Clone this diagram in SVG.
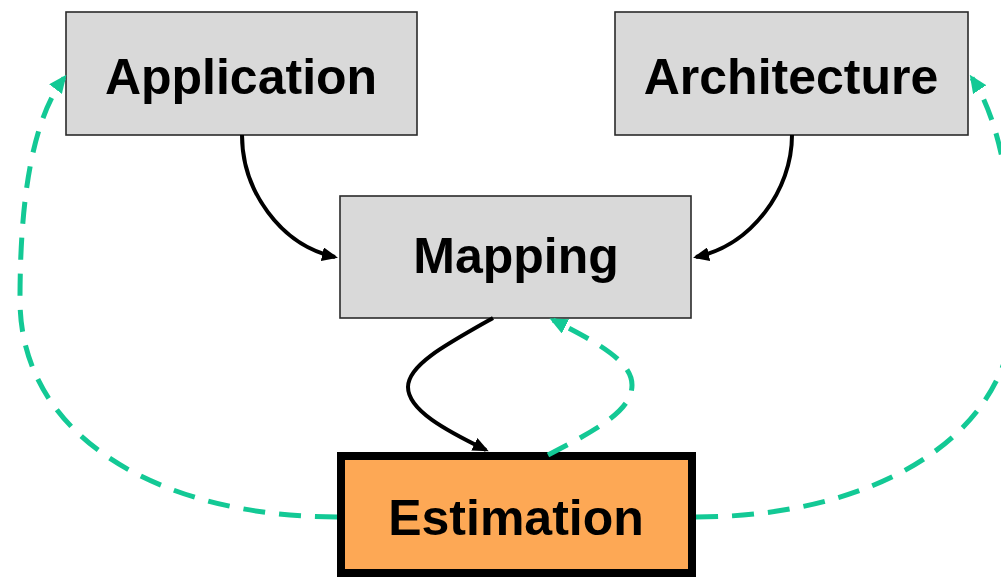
<svg xmlns="http://www.w3.org/2000/svg" width="1001" height="577" viewBox="0 0 1001 577">
<style>
.box{fill:#d9d9d9;stroke:#2a2a2a;stroke-width:1.6}
.est{fill:#fda855;stroke:#000;stroke-width:8}
.lbl{font-family:"Liberation Sans",Arial,sans-serif;font-weight:bold;font-size:50px;fill:#000;text-anchor:middle}
.blk{fill:none;stroke:#000;stroke-width:4}
.grn{fill:none;stroke:#13c995;stroke-width:5;stroke-dasharray:22 14}
</style>
<defs>
<marker id="ab" markerUnits="userSpaceOnUse" viewBox="0 0 16 14" markerWidth="16" markerHeight="14" refX="13" refY="7" orient="auto">
<path d="M0,0 L16,7 L0,14 z" fill="#000"/>
</marker>
<marker id="ag" markerUnits="userSpaceOnUse" viewBox="0 0 18 16" markerWidth="18" markerHeight="16" refX="14" refY="8" orient="auto">
<path d="M0,0 L18,8 L0,16 z" fill="#13c995"/>
</marker>
</defs>
<rect width="1001" height="577" fill="#fff"/>
<g id="application">
<rect class="box" x="66" y="12" width="351" height="123"/>
<text class="lbl" x="241" y="94">Application</text>
</g>
<g id="architecture">
<rect class="box" x="615" y="12" width="353" height="123"/>
<text class="lbl" x="791" y="94">Architecture</text>
</g>
<g id="mapping">
<rect class="box" x="340" y="196" width="351" height="122"/>
<text class="lbl" x="516" y="273">Mapping</text>
</g>
<g id="estimation">
<rect class="est" x="341" y="456" width="351" height="117"/>
<text class="lbl" x="516" y="535">Estimation</text>
</g>
<g id="connectors">
<path class="blk" d="M242,135 C242,190 280,245 335,257" marker-end="url(#ab)"/>
<path class="blk" d="M792,135 C792,190 752,245 696,257" marker-end="url(#ab)"/>
<path class="blk" d="M493,318 C445,345 408,365 408,387 C408,410 445,430 486,450" marker-end="url(#ab)"/>
<path class="grn" d="M548,455 C600,428 632,410 632,385 C632,360 592,340 553,320" marker-end="url(#ag)"/>
<path class="grn" d="M337,517 C165,517 20,440 20,300 C20,200 32,120 64,78" marker-end="url(#ag)"/>
<path class="grn" d="M696,517 C870,517 1015,440 1015,300 C1015,200 1000,120 972,78" marker-end="url(#ag)"/>
</g>
</svg>
